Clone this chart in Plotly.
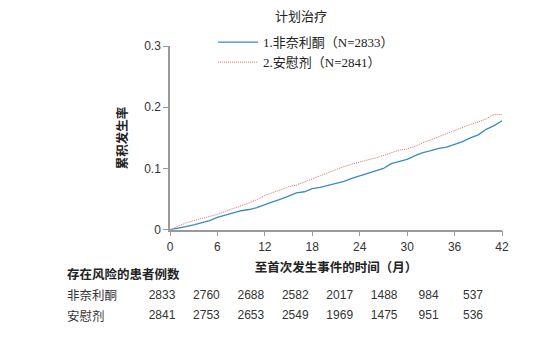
import plotly.graph_objects as go

# ---- data ----
months = [0, 0.5, 1, 2, 3, 4, 5, 6, 7, 8, 9, 10, 11, 12, 13, 14, 15, 16, 17, 18, 19, 20,
          21, 22, 23, 24, 25, 26, 27, 28, 29, 30, 31, 32, 33, 34, 35, 36, 37, 38, 39, 40,
          40.5, 41, 42]
placebo = [0, 0.003, 0.006, 0.011, 0.015, 0.018, 0.021, 0.025, 0.030, 0.034, 0.039, 0.044,
           0.049, 0.056, 0.061, 0.066, 0.070, 0.073, 0.078, 0.084, 0.088, 0.094, 0.099,
           0.103, 0.107, 0.111, 0.114, 0.117, 0.121, 0.125, 0.130, 0.132, 0.136, 0.142,
           0.147, 0.152, 0.157, 0.163, 0.168, 0.172, 0.176, 0.181, 0.185, 0.188, 0.188]
finerenone = [0, 0.001, 0.002, 0.005, 0.008, 0.011, 0.015, 0.020, 0.024, 0.028, 0.031, 0.033,
              0.036, 0.041, 0.045, 0.050, 0.055, 0.060, 0.062, 0.067, 0.069, 0.072, 0.075,
              0.079, 0.084, 0.088, 0.092, 0.096, 0.100, 0.108, 0.112, 0.115, 0.121, 0.126,
              0.129, 0.133, 0.135, 0.139, 0.144, 0.150, 0.155, 0.164, 0.167, 0.170, 0.178]

x_ticks = [0, 6, 12, 18, 24, 30, 36, 42]
y_ticks = [0, 0.1, 0.2, 0.3]
y_tick_text = ["0", "0.1", "0.2", "0.3"]

series_names = ["1.非奈利酮（N=2833）", "2.安慰剂（N=2841）"]
risk_labels = ["非奈利酮", "安慰剂"]
risk_finerenone = [2833, 2760, 2688, 2582, 2017, 1488, 984, 537]
risk_placebo = [2841, 2753, 2653, 2549, 1969, 1475, 951, 536]

SANS = "Liberation Sans, Noto Sans CJK SC, sans-serif"
SERIF = "Liberation Serif, Noto Sans CJK SC, serif"
BLUE = "#3a8bbf"
RED = "#e06a6a"

W, H = 555, 350
ML, MR, MT, MB = 60, 53, 46, 15
PW = W - ML - MR
PH = H - MT - MB


def px_x(p):
    return (p - ML) / PW


def px_y(p):
    return (H - MB - p) / PH


fig = go.Figure()
fig.add_trace(go.Scatter(x=months, y=finerenone, mode="lines", line_shape="linear",
                         name=series_names[0], line=dict(color=BLUE, width=1.3)))
fig.add_trace(go.Scatter(x=months, y=placebo, mode="lines", line_shape="linear",
                         name=series_names[1], line=dict(color=RED, width=1, dash="1px,1px")))

# risk table numbers on a hidden axis
idx = list(range(len(risk_finerenone)))
fig.add_trace(go.Scatter(x=idx, y=[1] * len(idx), mode="text",
                         text=[str(v) for v in risk_finerenone], xaxis="x2", yaxis="y2",
                         textfont=dict(family=SANS, size=12, color="#333"),
                         showlegend=False, cliponaxis=False, hoverinfo="skip"))
fig.add_trace(go.Scatter(x=idx, y=[0] * len(idx), mode="text",
                         text=[str(v) for v in risk_placebo], xaxis="x2", yaxis="y2",
                         textfont=dict(family=SANS, size=12, color="#333"),
                         showlegend=False, cliponaxis=False, hoverinfo="skip"))

axis_color = "#999999"
step = 44.43
r0 = -(162 - ML) / step
fig.update_layout(
    width=W, height=H,
    margin=dict(l=ML, r=MR, t=MT, b=MB),
    plot_bgcolor="white", paper_bgcolor="white",
    font=dict(family=SANS, size=12, color="#333"),
    xaxis=dict(range=[0, 42], domain=[px_x(170), 1], tickvals=x_ticks, ticks="outside",
               ticklen=5, tickcolor=axis_color, showline=True, linecolor=axis_color,
               linewidth=1.5, showgrid=False, zeroline=False, anchor="y",
               tickfont=dict(size=12, color="#333"),
               title=dict(text="<b>至首次发生事件的时间（月）</b>", standoff=10,
                          font=dict(size=12.5, color="#222"))),
    yaxis=dict(range=[0, 0.3], domain=[px_y(232.3), 1], tickvals=y_ticks,
               ticktext=y_tick_text, anchor="x",
               ticks="outside", ticklen=5, tickcolor=axis_color, showline=True,
               linecolor=axis_color, linewidth=1.5, showgrid=False, zeroline=False,
               tickfont=dict(size=12, color="#333"),
               title=dict(text="<b>累积发生率</b>", standoff=14,
                          font=dict(size=12.5, color="#222"))),
    xaxis2=dict(range=[r0, r0 + PW / step], domain=[0, 1], anchor="y2", visible=False),
    yaxis2=dict(range=[-0.75, -0.75 + (PH * 0.2) / 20], domain=[0, 0.2], anchor="x2",
                visible=False),
    legend=dict(x=px_x(213), y=px_y(27), xanchor="left", yanchor="top",
                bgcolor="rgba(0,0,0,0)", font=dict(family=SERIF, size=13, color="#222"),
                tracegroupgap=0, itemwidth=40),
    showlegend=True,
)

fig.add_annotation(text="计划治疗", xref="paper", yref="paper", x=px_x(301),
                   y=px_y(16), showarrow=False, xanchor="center",
                   yanchor="middle", font=dict(family=SERIF, size=13, color="#222"))

fig.add_annotation(text="<b>存在风险的患者例数</b>", xref="paper", yref="paper",
                   x=px_x(65), y=px_y(278), showarrow=False, xanchor="left",
                   yanchor="middle", font=dict(size=12.5, color="#222"))
for lab, pyy in zip(risk_labels, [300, 320]):
    fig.add_annotation(text=lab, xref="paper", yref="paper", x=px_x(65), y=px_y(pyy),
                       showarrow=False, xanchor="left", yanchor="middle",
                       font=dict(size=12.5, color="#333"))

fig.write_html("out.html")
